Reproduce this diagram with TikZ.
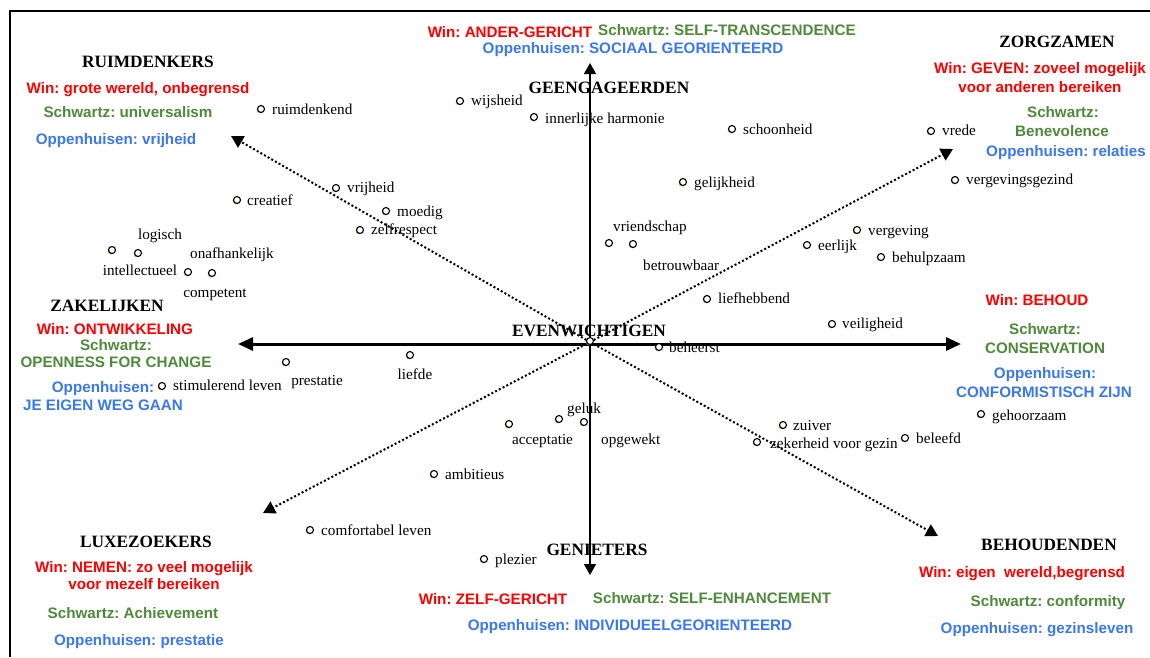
\documentclass[tikz,border=0pt]{standalone}
\usepackage{fontspec}
\setmainfont{Liberation Serif}
\newfontfamily\arialfont{Liberation Sans}
\usetikzlibrary{arrows.meta,shadows}
\definecolor{wred}{RGB}{255,0,0}
\definecolor{sgreen}{RGB}{78,138,58}
\definecolor{oblue}{RGB}{58,120,240}
\definecolor{mkorange}{RGB}{255,140,0}
\frenchspacing
\begin{document}
\begin{tikzpicture}[x=1pt,y=-1pt,
  lbl/.style={font=\fontsize{15.2}{17}\selectfont, inner sep=0pt, anchor=mid west, yshift=-2.5pt},
  lblc/.style={font=\fontsize{15.2}{17}\selectfont, inner sep=0pt, anchor=mid, yshift=-2.5pt},
  hd/.style={font=\fontsize{17.3}{20}\selectfont\bfseries, inner sep=0pt, anchor=mid, yshift=-2.5pt},
  cw/.style={font=\arialfont\bfseries\fontsize{15.2}{17}\selectfont\frenchspacing, inner sep=0pt, anchor=mid, text=wred, yshift=-2.5pt},
  cs/.style={cw, text=sgreen},
  co/.style={cw, text=oblue},
  mk/.style={circle, draw=black, fill=white, line width=1.1pt, minimum size=7pt, inner sep=0pt,
    drop shadow={shadow xshift=-0.8pt, shadow yshift=-0.8pt, fill=mkorange, opacity=1}},
  dotline/.style={line width=2pt, dash pattern=on 2pt off 2.2pt, -{Triangle[width=13pt,length=12pt]}},
  hax/.style={line width=3pt, {Triangle[width=13pt,length=15pt]}-{Triangle[width=13pt,length=15pt]}},
  vax/.style={line width=1.5pt, {Triangle[width=12pt,length=11pt]}-{Triangle[width=12pt,length=11pt]}}
]
\useasboundingbox (0,0) rectangle (1150,657);
\fill[white] (0,0) rectangle (1150,657);
% frame
\draw[line width=2pt] (10,657) -- (10,11) -- (1150,11);

% axes
\coordinate (O) at (590,342);
\coordinate (top) at (590,63);
\coordinate (bot) at (590,575);
\coordinate (lft) at (238,344);
\coordinate (rgt) at (961,344);
\coordinate (ul) at (231,136);
\coordinate (ur) at (953,149);
\coordinate (ll) at (263,513);
\coordinate (lr) at (938,536);
\draw[vax] (bot) -- (top);
\draw[hax] (lft) -- (rgt);
\draw[dotline] (O) -- (ul);
\draw[dotline] (O) -- (ur);
\draw[dotline] (O) -- (ll);
\draw[dotline] (O) -- (lr);

% value markers and labels
\node[mk] (d0) at (590,341) {};
\node[mk] (d1) at (261,109) {};  \node[lbl] (l1) at (272,110) {ruimdenkend};
\node[mk] (d2) at (460,101) {};  \node[lbl] (l2) at (471,101) {wijsheid};
\node[mk] (d3) at (534,117) {};  \node[lbl] (l3) at (545,119) {innerlijke harmonie};
\node[mk] (d4) at (732,129) {};  \node[lbl] (l4) at (743,130) {schoonheid};
\node[mk] (d5) at (931,131) {};  \node[lbl] (l5) at (942,131) {vrede};
\node[mk] (d6) at (683,182) {};  \node[lbl] (l6) at (694,183) {gelijkheid};
\node[mk] (d7) at (955,180) {};  \node[lbl] (l7) at (966,180) {vergevingsgezind};
\node[mk] (d8) at (336,188) {};  \node[lbl] (l8) at (347,188) {vrijheid};
\node[mk] (d9) at (237,200) {};  \node[lbl] (l9) at (247,201) {creatief};
\node[mk] (d10) at (386,211) {}; \node[lbl] (l10) at (397,212) {moedig};
\node[mk] (d11) at (360,230) {}; \node[lbl] (l11) at (371,230) {zelfrespect};
\node[mk] (d12) at (857,230) {}; \node[lbl] (l12) at (868,231) {vergeving};
\node[mk] (d13) at (807,245) {}; \node[lbl] (l13) at (818,246) {eerlijk};
\node[mk] (d14) at (881,257) {}; \node[lbl] (l14) at (892,258) {behulpzaam};
\node[mk] (d15) at (609,243) {}; \node[lbl] (l15) at (613,227) {vriendschap};
\node[mk] (d16) at (633,244) {}; \node[lbl] (l16) at (643,266) {betrouwbaar};
\node[mk] (d17) at (112,250) {}; \node[lblc] (l17) at (160,235) {logisch};
\node[mk] (d18) at (138,253) {}; \node[lblc] (l18) at (140,271) {intellectueel};
\node[mk] (d19) at (188,272) {}; \node[lblc] (l19) at (232,254) {onafhankelijk};
\node[mk] (d20) at (212,273) {}; \node[lblc] (l20) at (215,293) {competent};
\node[mk] (d21) at (707,299) {}; \node[lbl] (l21) at (718,299) {liefhebbend};
\node[mk] (d22) at (832,324) {}; \node[lbl] (l22) at (842,324) {veiligheid};
\node[mk] (d23) at (659,347) {}; \node[lbl] (l23) at (669,348) {beheerst};
\node[mk] (d24) at (286,362) {}; \node[lblc] (l24) at (317,381) {prestatie};
\node[mk] (d25) at (410,355) {}; \node[lblc] (l25) at (415,375) {liefde};
\node[mk] (d26) at (162,386) {}; \node[lbl] (l26) at (173,386) {stimulerend leven};
\node[mk] (d27) at (509,424) {}; \node[lbl] (l27) at (512,440) {acceptatie};
\node[mk] (d28) at (559,419) {}; \node[lbl] (l28) at (567,409) {geluk};
\node[mk] (d29) at (584,422) {}; \node[lbl] (l29) at (601,440) {opgewekt};
\node[mk] (d30) at (783,425) {}; \node[lbl] (l30) at (793,426) {zuiver};
\node[mk] (d31) at (757,442) {}; \node[lbl] (l31) at (770,444) {zekerheid voor gezin};
\node[mk] (d32) at (905,438) {}; \node[lbl] (l32) at (916,439) {beleefd};
\node[mk] (d33) at (981,414) {}; \node[lbl] (l33) at (992,416) {gehoorzaam};
\node[mk] (d34) at (434,474) {}; \node[lbl] (l34) at (445,475) {ambitieus};
\node[mk] (d35) at (310,530) {}; \node[lbl] (l35) at (321,531) {comfortabel leven};
\node[mk] (d36) at (484,559) {}; \node[lbl] (l36) at (495,560) {plezier};

% group headings
\node[hd] (h1) at (148,63) {RUIMDENKERS};
\node[hd] (h2) at (609,89) {GEENGAGEERDEN};
\node[hd] (h3) at (1057,43) {ZORGZAMEN};
\node[hd] (h4) at (107,307) {ZAKELIJKEN};
\node[hd] (h5) at (589,332) {EVENWICHTIGEN};
\node[hd] (h6) at (146,543) {LUXEZOEKERS};
\node[hd] (h7) at (597,551) {GENIETERS};
\node[hd] (h8) at (1049,546) {BEHOUDENDEN};

% coloured descriptions
\node[cw] (t1) at (138,89) {Win: grote wereld, onbegrensd};
\node[cs] (t2) at (128,113) {Schwartz: universalism};
\node[co] (t3) at (116,140) {Oppenhuisen: vrijheid};

\node[cw] (t4) at (510,33) {Win: ANDER-GERICHT};
\node[cs] (t5) at (727,31) {Schwartz: SELF-TRANSCENDENCE};
\node[co] (t6) at (633,49) {Oppenhuisen: SOCIAAL GEORIENTEERD};

\node[cw] (t7) at (1040,69) {Win: GEVEN: zoveel mogelijk};
\node[cw] (t8) at (1040,88) {voor anderen bereiken};
\node[cs] (t9) at (1063,113) {Schwartz:};
\node[cs] (t10) at (1062,132) {Benevolence};
\node[co] (t11) at (1066,152) {Oppenhuisen: relaties};

\node[cw] (t12) at (115,330) {Win: ONTWIKKELING};
\node[cs] (t13) at (116,346) {Schwartz:};
\node[cs] (t14) at (116,363) {OPENNESS FOR CHANGE};
\node[co] (t15) at (103,388) {Oppenhuisen:};
\node[co] (t16) at (103,406) {JE EIGEN WEG GAAN};

\node[cw] (t17) at (1037,301) {Win: BEHOUD};
\node[cs] (t18) at (1045,330) {Schwartz:};
\node[cs] (t19) at (1045,349) {CONSERVATION};
\node[co] (t20) at (1045,374) {Oppenhuisen:};
\node[co] (t21) at (1044,393) {CONFORMISTISCH ZIJN};

\node[cw] (t22) at (144,568) {Win: NEMEN: zo veel mogelijk};
\node[cw] (t23) at (144,585) {voor mezelf bereiken};
\node[cs] (t24) at (133,614) {Schwartz: Achievement};
\node[co] (t25) at (139,641) {Oppenhuisen: prestatie};

\node[cw] (t26) at (493,600) {Win: ZELF-GERICHT};
\node[cs] (t27) at (712,599) {Schwartz: SELF-ENHANCEMENT};
\node[co] (t28) at (630,626) {Oppenhuisen: INDIVIDUEELGEORIENTEERD};

\node[cw] (t29) at (1022,573) {Win: eigen~ wereld,begrensd};
\node[cs] (t30) at (1048,602) {Schwartz: conformity};
\node[co] (t31) at (1037,629) {Oppenhuisen: gezinsleven};
\end{tikzpicture}
\end{document}
